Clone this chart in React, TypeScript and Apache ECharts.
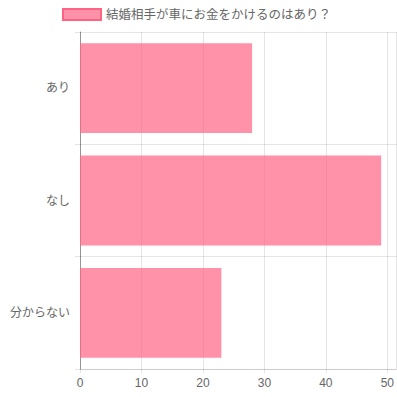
import React, { useEffect, useRef } from "react";
import * as echarts from "echarts";

const categories = ["あり", "なし", "分からない"];
const values = [28, 49, 23];
const seriesName = "結婚相手が車にお金をかけるのはあり？";
const xTicks = [0, 10, 20, 30, 40, 50];

export default function App() {
  const ref = useRef<HTMLDivElement>(null);
  useEffect(() => {
    if (!ref.current) return;
    const chart = echarts.init(ref.current, undefined, { renderer: "svg" });
    const font = "'Liberation Sans', 'Noto Sans CJK JP', sans-serif";
    chart.setOption({
      animation: false,
      textStyle: { fontFamily: font },
      legend: {
        top: 8,
        left: 62,
        padding: 0,
        itemWidth: 38,
        itemHeight: 11,
        itemGap: 6,
        data: [
          {
            name: seriesName,
            icon: "rect",
            itemStyle: { color: "rgba(255,99,132,0.7)", borderColor: "rgb(255,99,132)", borderWidth: 2 },
          },
        ],
        textStyle: { color: "#666", fontSize: 12.5, fontFamily: font },
      },
      grid: { left: 80, right: 0, top: 32, bottom: 28, containLabel: false },
      xAxis: {
        type: "value",
        min: 0,
        max: 51.5,
        interval: 10,
        axisLine: { show: true, lineStyle: { color: "rgba(0,0,0,0.1)" } },
        axisTick: { show: true, length: 4, lineStyle: { color: "rgba(0,0,0,0.1)" } },
        axisLabel: {
          color: "#666",
          fontSize: 12,
          margin: 8,
          showMaxLabel: false,
          hideOverlap: false,
          fontFamily: font,
          formatter: (v: number) => (xTicks.includes(v) ? String(v) : ""),
        },
        splitLine: { show: true, lineStyle: { color: "rgba(0,0,0,0.1)" } },
      },
      yAxis: {
        type: "category",
        inverse: true,
        data: categories,
        axisLine: { show: true, lineStyle: { color: "rgba(0,0,0,0.35)" } },
        axisTick: { show: true, length: 5, lineStyle: { color: "rgba(0,0,0,0.1)" } },
        axisLabel: { color: "#666", fontSize: 12, margin: 10, fontFamily: font },
        splitLine: { show: true, lineStyle: { color: "rgba(0,0,0,0.1)" } },
      },
      series: [
        {
          name: seriesName,
          type: "bar",
          data: values,
          barCategoryGap: "20%",
          itemStyle: { color: "rgba(255,99,132,0.7)" },
        },
      ],
    });
    return () => chart.dispose();
  }, []);
  return <div ref={ref} style={{ position: "absolute", left: 0, top: 0, width: 397, height: 397 }} />;
}
